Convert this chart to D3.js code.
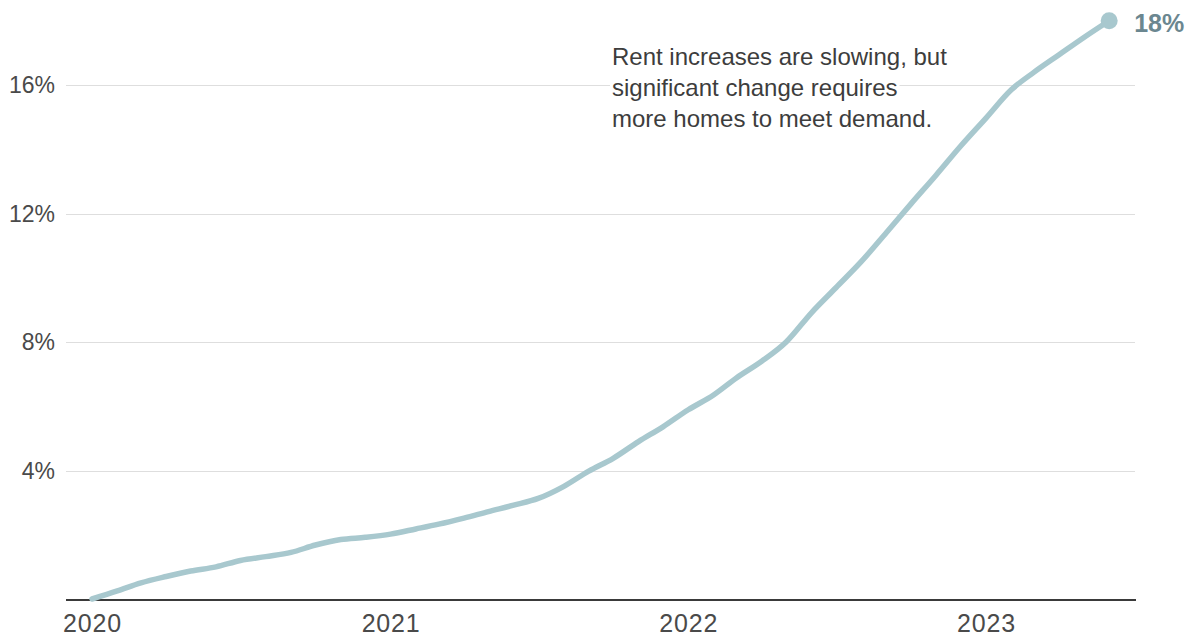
<!DOCTYPE html>
<html>
<head>
<meta charset="utf-8">
<script src="https://cdn.jsdelivr.net/npm/d3@7"></script>
<style>
  html, body { margin: 0; padding: 0; background: #fff; }
  svg { display: block; font-family: "Liberation Sans", Arial, sans-serif; }
</style>
</head>
<body>
<svg id="chart" width="1195" height="638"></svg>
<script>
// Cumulative rent change since January 2020, monthly (%)
const startMonth = "2020-01";
const rentChange = [
  0, 0.25, 0.5, 0.7, 0.87, 1.0, 1.2, 1.32, 1.45, 1.68, 1.85, 1.92,
  2.02, 2.18, 2.33, 2.52, 2.72, 2.92, 3.13, 3.5, 3.98, 4.38, 4.9, 5.36,
  5.89, 6.35, 6.88, 7.4, 8.0, 8.91, 9.69, 10.5, 11.41, 12.3, 13.2, 14.1,
  14.97, 15.85, 16.4, 16.95, 17.48, 18.0
];
const yTicks = [4, 8, 12, 16];
const xTickYears = [2020, 2021, 2022, 2023];
const endLabel = "18%";
const noteLines = [
  "Rent increases are slowing, but",
  "significant change requires",
  "more homes to meet demand."
];

const svg = d3.select("#chart");
const parseMonth = d3.timeParse("%Y-%m");
const t0 = parseMonth(startMonth);
const data = rentChange.map((v, i) => ({ date: d3.timeMonth.offset(t0, i), value: v }));

const x = d3.scaleTime()
  .domain([new Date(2020, 0, 1), new Date(2023, 0, 1)])
  .range([92, 986]);
const y = d3.scaleLinear().domain([0, 16]).range([599, 85]);

const plotLeft = 66, plotRight = 1136;

// Horizontal gridlines
svg.append("g")
  .selectAll("line")
  .data(yTicks)
  .join("line")
  .attr("x1", plotLeft).attr("x2", plotRight - 1)
  .attr("y1", d => Math.round(y(d)) + 0.5)
  .attr("y2", d => Math.round(y(d)) + 0.5)
  .attr("stroke", "#dedede")
  .attr("stroke-width", 1.2);

// Y tick labels
svg.append("g")
  .selectAll("text")
  .data(yTicks)
  .join("text")
  .attr("x", 55)
  .attr("y", d => y(d))
  .attr("dy", "0.36em")
  .attr("text-anchor", "end")
  .attr("fill", "#4a4a4a")
  .style("font-size", "23px")
  .text(d => d + "%");

// Baseline (x axis)
const xAxis = d3.axisBottom(x)
  .tickValues(xTickYears.map(yr => new Date(yr, 0, 1)))
  .tickFormat(d3.timeFormat("%Y"))
  .tickSize(0)
  .tickPadding(14);

const gx = svg.append("g")
  .attr("transform", `translate(0,${y(0) + 1})`)
  .call(xAxis);
gx.select(".domain").remove();
gx.append("line")
  .attr("x1", plotLeft).attr("x2", plotRight)
  .attr("stroke", "#3a3a3a").attr("stroke-width", 1.8);
gx.selectAll("text")
  .attr("fill", "#4a4a4a")
  .style("font-size", "25px")
  .style("letter-spacing", "0.8px")
  .style("font-family", "\"Liberation Sans\", Arial, sans-serif");

// Annotation with white backing so gridlines don't run through it
const note = svg.append("g");
const noteX = 612, noteBase = 65, noteStep = 31;
noteLines.forEach((line, i) => {
  const t = note.append("text")
    .attr("x", noteX)
    .attr("y", noteBase + i * noteStep)
    .attr("fill", "#3d3d3d")
    .style("font-size", "24px")
    .text(line);
  const bb = t.node().getBBox();
  note.insert("rect", "text")
    .attr("x", bb.x - 2).attr("y", bb.y + 3)
    .attr("width", bb.width + 4).attr("height", bb.height - 4)
    .attr("fill", "#fff");
});

// Rent line
const lineColor = "#a8c8ce";
svg.append("path")
  .datum(data)
  .attr("fill", "none")
  .attr("stroke", lineColor)
  .attr("stroke-width", 5.5)
  .attr("stroke-linejoin", "round")
  .attr("stroke-linecap", "round")
  .attr("d", d3.line().curve(d3.curveMonotoneX).x(d => x(d.date)).y(d => y(d.value)));

// End marker and label
const last = data[data.length - 1];
svg.append("circle")
  .attr("cx", x(last.date))
  .attr("cy", y(last.value))
  .attr("r", 8.5)
  .attr("fill", lineColor);

svg.append("text")
  .attr("x", x(last.date) + 25)
  .attr("y", y(last.value) + 1)
  .attr("dy", "0.42em")
  .attr("fill", "#6b8790")
  .style("font-size", "25px")
  .style("font-weight", "bold")
  .text(endLabel);
</script>
</body>
</html>
